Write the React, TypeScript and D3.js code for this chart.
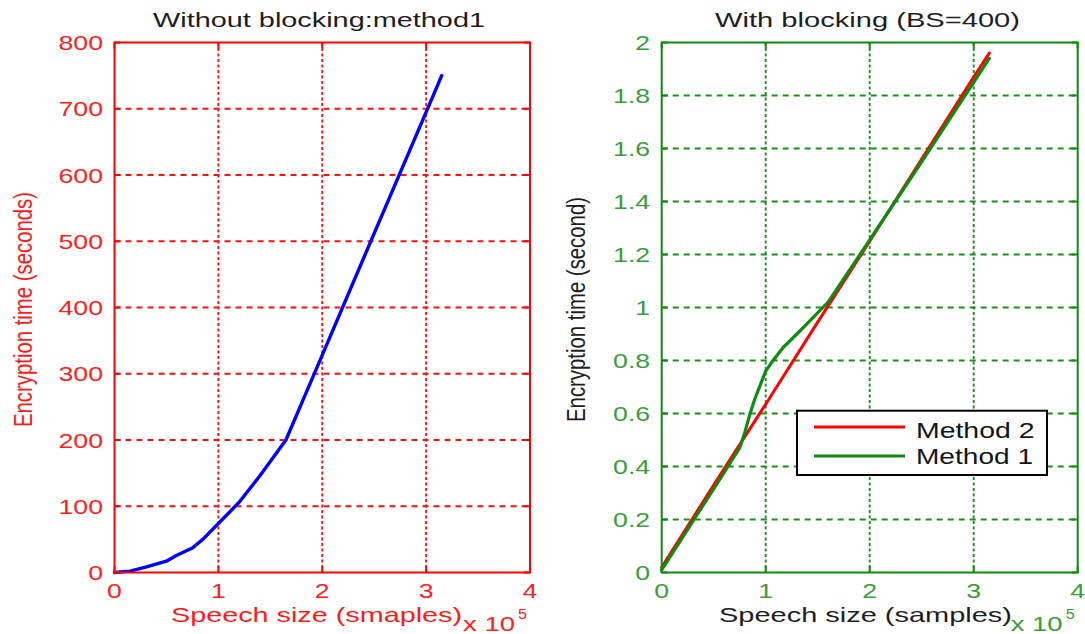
import React from "react";
import * as d3 from "d3";

// Speech size in units of 10^5 samples, encryption time in seconds.
const speechSizeNoBlock = [0, 0.15, 0.3, 0.5, 0.6, 0.75, 0.85, 1.0, 1.2, 1.4, 1.65, 1.8, 2.0, 2.5, 3.0, 3.15];
const timeNoBlock = [0, 2, 8, 17, 26, 37, 50, 74, 106, 146, 200, 255, 328, 512, 695, 750];

const speechSizeMethod2 = [0, 0.5, 1.0, 1.5, 2.0, 2.5, 3.0, 3.15];
const timeMethod2 = [0.02, 0.33, 0.635, 0.945, 1.25, 1.56, 1.87, 1.96];

const speechSizeMethod1 = [0, 0.54, 0.75, 0.8, 0.85, 0.9, 0.95, 1.0, 1.07, 1.17, 1.3, 1.45, 1.6, 2.0, 2.5, 3.0, 3.15];
const timeMethod1 = [0.01, 0.34, 0.47, 0.53, 0.6, 0.66, 0.71, 0.76, 0.8, 0.85, 0.9, 0.96, 1.02, 1.255, 1.55, 1.85, 1.94];

const xTickValues = [0, 1, 2, 3, 4];
const leftYTicks = [0, 100, 200, 300, 400, 500, 600, 700, 800];
const rightYTicks = [0, 0.2, 0.4, 0.6, 0.8, 1, 1.2, 1.4, 1.6, 1.8, 2];

const titles = ["Without blocking:method1", "With blocking (BS=400)"];
const xLabels = ["Speech size (smaples)", "Speech size (samples)"];
const yLabels = ["Encryption time (seconds)", "Encryption time (second)"];
const legendLabels = ["Method 2", "Method 1"];

const FONT = "'Liberation Sans', Arial, Helvetica, sans-serif";
const SX = 1.27; // horizontal glyph stretch used for all text

type Series = { xs: number[]; ys: number[]; color: string; width: number };

type PanelProps = {
  left: number;
  right: number;
  top: number;
  bottom: number;
  yMax: number;
  yTicks: number[];
  axisColor: string;
  gridColor: string;
  tickColor: string;
  labelColor: string;
  exponentColor: string;
  title: string;
  titleWidth: number;
  titleCenter: number;
  xLabel: string;
  xLabelWidth: number;
  xLabelCenter: number;
  yLabel: string;
  yLabelLength: number;
  yLabelBaseX: number;
  series: Series[];
  children?: React.ReactNode;
};

function Panel(p: PanelProps) {
  const x = d3.scaleLinear().domain([0, 4]).range([p.left, p.right]);
  const y = d3.scaleLinear().domain([0, p.yMax]).range([p.bottom, p.top]);
  const tickLen = 6;
  const yMid = (p.top + p.bottom) / 2;

  return (
    <g>
      {/* grid */}
      {p.yTicks.slice(1, -1).map((v) => (
        <line
          key={"gy" + v}
          x1={p.left}
          x2={p.right}
          y1={y(v)}
          y2={y(v)}
          stroke={p.gridColor}
          strokeWidth={1.9}
          strokeDasharray="6,5"
        />
      ))}
      {xTickValues.slice(1, -1).map((v) => (
        <line
          key={"gx" + v}
          x1={x(v)}
          x2={x(v)}
          y1={p.top}
          y2={p.bottom}
          stroke={p.gridColor}
          strokeWidth={1.9}
          strokeDasharray="3,2.5"
        />
      ))}

      {/* data */}
      {p.series.map((s, i) => {
        const pts: [number, number][] = s.xs.map((v, k) => [v, s.ys[k]]);
        const path = d3
          .line<[number, number]>()
          .x((d) => x(d[0]))
          .y((d) => y(d[1]))(pts);
        return (
          <path
            key={"s" + i}
            d={path || ""}
            fill="none"
            stroke={s.color}
            strokeWidth={s.width}
            strokeLinejoin="round"
            strokeLinecap="round"
          />
        );
      })}

      {/* box and tick marks */}
      <rect
        x={p.left}
        y={p.top}
        width={p.right - p.left}
        height={p.bottom - p.top}
        fill="none"
        stroke={p.axisColor}
        strokeWidth={2}
      />
      {p.yTicks.map((v) => (
        <g key={"ty" + v}>
          <line x1={p.left} x2={p.left + tickLen} y1={y(v)} y2={y(v)} stroke={p.axisColor} strokeWidth={2} />
          <line x1={p.right} x2={p.right - tickLen} y1={y(v)} y2={y(v)} stroke={p.axisColor} strokeWidth={2} />
        </g>
      ))}
      {xTickValues.map((v) => (
        <g key={"tx" + v}>
          <line x1={x(v)} x2={x(v)} y1={p.bottom} y2={p.bottom - tickLen} stroke={p.axisColor} strokeWidth={2} />
          <line x1={x(v)} x2={x(v)} y1={p.top} y2={p.top + tickLen} stroke={p.axisColor} strokeWidth={2} />
        </g>
      ))}

      {/* tick labels */}
      {p.yTicks.map((v) => (
        <text
          key={"ly" + v}
          transform={`translate(${p.left - 11.5},${y(v) + 7.5}) scale(${SX},1)`}
          textAnchor="end"
          fontFamily={FONT}
          fontSize={21}
          fill={p.tickColor}
        >
          {String(v)}
        </text>
      ))}
      {xTickValues.map((v) => (
        <text
          key={"lx" + v}
          transform={`translate(${x(v)},${p.bottom + 25.5}) scale(${SX},1)`}
          textAnchor="middle"
          fontFamily={FONT}
          fontSize={21}
          fill={p.tickColor}
        >
          {String(v)}
        </text>
      ))}

      {/* title */}
      <text
        x={p.titleCenter}
        y={27}
        textAnchor="middle"
        fontFamily={FONT}
        fontSize={21}
        fill="#1e1e1e"
        textLength={p.titleWidth}
        lengthAdjust="spacingAndGlyphs"
      >
        {p.title}
      </text>

      {/* x label */}
      <text
        x={p.xLabelCenter}
        y={622}
        textAnchor="middle"
        fontFamily={FONT}
        fontSize={21}
        fill={p.labelColor}
        textLength={p.xLabelWidth}
        lengthAdjust="spacingAndGlyphs"
      >
        {p.xLabel}
      </text>

      {/* exponent marker */}
      <text
        x={p.right - 67}
        y={631}
        fontFamily={FONT}
        fontSize={20}
        fill={p.exponentColor}
        textLength={52}
        lengthAdjust="spacingAndGlyphs"
      >
        x 10
      </text>
      <text
        x={p.right - 12}
        y={619}
        fontFamily={FONT}
        fontSize={14}
        fill={p.exponentColor}
        textLength={9}
        lengthAdjust="spacingAndGlyphs"
      >
        5
      </text>

      {/* y label */}
      <text
        transform={`translate(${p.yLabelBaseX},${yMid + 2}) scale(${SX},1) rotate(-90)`}
        textAnchor="middle"
        fontFamily={FONT}
        fontSize={21}
        fill={p.labelColor}
        textLength={p.yLabelLength}
        lengthAdjust="spacingAndGlyphs"
      >
        {p.yLabel}
      </text>

      {p.children}
    </g>
  );
}

export default function App() {
  const legendColors = ["#ff0000", "#108a10"];
  return (
    <div style={{ position: "absolute", left: 0, top: 0 }}>
      <svg width={1085} height={634} style={{ display: "block", background: "#ffffff" }}>
        <rect width={1085} height={634} fill="#ffffff" />
        <Panel
          left={114.5}
          right={530}
          top={42.5}
          bottom={572.5}
          yMax={800}
          yTicks={leftYTicks}
          axisColor="#ff0000"
          gridColor="#ff1010"
          tickColor="#ff2020"
          labelColor="#ff1a1a"
          exponentColor="#ff2020"
          title={titles[0]}
          titleWidth={332}
          titleCenter={319}
          xLabel={xLabels[0]}
          xLabelWidth={291}
          xLabelCenter={316.5}
          yLabel={yLabels[0]}
          yLabelLength={235}
          yLabelBaseX={32}
          series={[{ xs: speechSizeNoBlock, ys: timeNoBlock, color: "#0000ff", width: 3.4 }]}
        />
        <Panel
          left={661.7}
          right={1077.7}
          top={42.5}
          bottom={572.5}
          yMax={2}
          yTicks={rightYTicks}
          axisColor="#0f8a0f"
          gridColor="#1a8f1a"
          tickColor="#3a9c3a"
          labelColor="#1e1e1e"
          exponentColor="#3a9c3a"
          title={titles[1]}
          titleWidth={305}
          titleCenter={867.5}
          xLabel={xLabels[1]}
          xLabelWidth={293}
          xLabelCenter={865.5}
          yLabel={yLabels[1]}
          yLabelLength={225}
          yLabelBaseX={585}
          series={[
            { xs: speechSizeMethod2, ys: timeMethod2, color: "#ff0000", width: 3 },
            { xs: speechSizeMethod1, ys: timeMethod1, color: "#108a10", width: 3.2 },
          ]}
        >
          {/* legend */}
          <rect x={797} y={410.7} width={250} height={64.3} fill="#ffffff" stroke="#000000" strokeWidth={2} />
          {legendLabels.map((label, i) => (
            <g key={label}>
              <line
                x1={814}
                x2={905}
                y1={i === 0 ? 427 : 456}
                y2={i === 0 ? 427 : 456}
                stroke={legendColors[i]}
                strokeWidth={3}
              />
              <text
                x={916}
                y={i === 0 ? 437.5 : 463.5}
                fontFamily={FONT}
                fontSize={22}
                fill="#141414"
                textLength={i === 0 ? 118.5 : 117}
                lengthAdjust="spacingAndGlyphs"
              >
                {label}
              </text>
            </g>
          ))}
        </Panel>
      </svg>
    </div>
  );
}
